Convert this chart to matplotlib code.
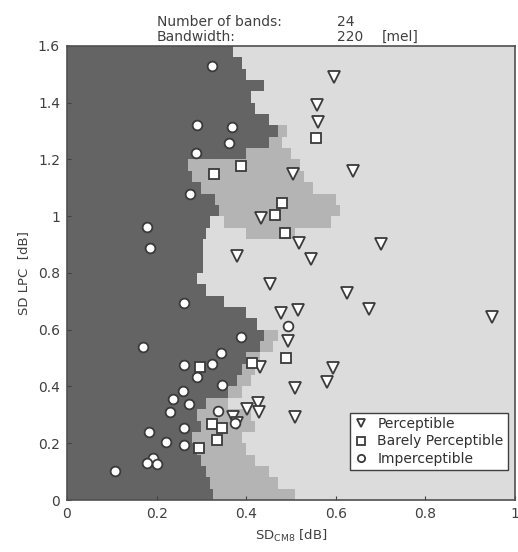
import numpy as np
import matplotlib
matplotlib.use('Agg')
import matplotlib.pyplot as plt
from matplotlib.colors import ListedColormap

# measured points
perc_x = [0.597, 0.559, 0.561, 0.504, 0.639, 0.433, 0.519, 0.700, 0.379, 0.545,
          0.453, 0.624, 0.674, 0.948, 0.478, 0.516, 0.493, 0.431, 0.593, 0.580,
          0.510, 0.427, 0.402, 0.429, 0.510, 0.371, 0.380]
perc_y = [1.492, 1.392, 1.333, 1.149, 1.160, 0.993, 0.907, 0.902, 0.860, 0.848,
          0.761, 0.728, 0.673, 0.646, 0.658, 0.670, 0.561, 0.470, 0.466, 0.415,
          0.394, 0.343, 0.320, 0.311, 0.294, 0.291, 0.270]

barely_x = [0.388, 0.329, 0.555, 0.481, 0.464, 0.487, 0.297, 0.414, 0.489,
            0.323, 0.347, 0.334, 0.295]
barely_y = [1.178, 1.149, 1.275, 1.047, 1.006, 0.940, 0.470, 0.484, 0.502,
            0.268, 0.253, 0.211, 0.184]

imp_x = [0.324, 0.290, 0.368, 0.361, 0.288, 0.275, 0.179, 0.185, 0.262, 0.388,
         0.170, 0.343, 0.262, 0.323, 0.291, 0.346, 0.260, 0.237, 0.272, 0.231,
         0.337, 0.262, 0.184, 0.222, 0.262, 0.192, 0.179, 0.200, 0.108, 0.494,
         0.375]
imp_y = [1.528, 1.322, 1.316, 1.258, 1.222, 1.078, 0.961, 0.887, 0.693, 0.576,
         0.538, 0.517, 0.476, 0.479, 0.432, 0.405, 0.385, 0.355, 0.338, 0.311,
         0.315, 0.253, 0.239, 0.203, 0.194, 0.149, 0.129, 0.127, 0.102, 0.614,
         0.272]

# decision regions, one row per 0.04 in SD LPC
row_step = 0.04
dark_edge = [0.325, 0.32, 0.31, 0.30, 0.29, 0.28, 0.30, 0.29, 0.31, 0.36,
             0.38, 0.39, 0.40, 0.43, 0.44, 0.425, 0.40, 0.35, 0.31, 0.29,
             0.303, 0.303, 0.303, 0.31, 0.32, 0.34, 0.33, 0.30, 0.28, 0.27,
             0.40, 0.45, 0.47, 0.45, 0.42, 0.41, 0.44, 0.40, 0.39, 0.37]
mid_lo = [0.325, 0.32, 0.31, 0.30, 0.29, 0.28, 0.30, 0.29, 0.31, 0.36,
          0.38, 0.39, 0.40, 0.43, 0.44, 0, 0, 0, 0, 0,
          0, 0, 0, 0.40, 0.35, 0.34, 0.33, 0.30, 0.28, 0.27,
          0.40, 0.45, 0.47, 0, 0, 0, 0, 0, 0, 0]
mid_hi = [0.51, 0.47, 0.45, 0.42, 0.40, 0.39, 0.42, 0.41, 0.36, 0.39,
          0.41, 0.42, 0.43, 0.46, 0.47, 0, 0, 0, 0, 0,
          0, 0, 0, 0.51, 0.59, 0.61, 0.60, 0.55, 0.53, 0.52,
          0.50, 0.48, 0.49, 0, 0, 0, 0, 0, 0, 0]

xg = np.linspace(0, 1, 401)
xc = 0.5 * (xg[1:] + xg[:-1])
yg = np.arange(len(dark_edge) + 1) * row_step
grid = np.full((len(dark_edge), len(xc)), 2)
for i in range(len(dark_edge)):
    grid[i, (xc >= mid_lo[i]) & (xc < mid_hi[i])] = 1
    grid[i, xc < dark_edge[i]] = 0

fig = plt.figure(figsize=(5.18, 5.52), dpi=100)
ax = fig.add_axes([0.1293, 0.0942, 0.8649, 0.8225])
cmap = ListedColormap(['#646464', '#b4b4b4', '#dcdcdc'])
ax.pcolormesh(xg, yg, grid, cmap=cmap, vmin=0, vmax=2, shading='flat')

ec = '#3a3a3a'
ax.plot(perc_x, perc_y, 'v', ms=8.5, mfc='white', mec=ec, mew=1.3, ls='none', label='Perceptible')
ax.plot(barely_x, barely_y, 's', ms=7.5, mfc='white', mec=ec, mew=1.3, ls='none', label='Barely Perceptible')
ax.plot(imp_x, imp_y, 'o', ms=7, mfc='white', mec=ec, mew=1.3, ls='none', label='Imperceptible')

ax.set_xlim(0, 1)
ax.set_ylim(0, 1.6)
ax.set_xticks(np.arange(0, 1.01, 0.2))
ax.set_xticklabels(['0', '0.2', '0.4', '0.6', '0.8', '1'])
ax.set_yticks(np.arange(0, 1.61, 0.2))
ax.set_yticklabels(['0', '0.2', '0.4', '0.6', '0.8', '1', '1.2', '1.4', '1.6'])
ax.tick_params(direction='in', length=3, labelsize=10, colors='#404040', pad=5)
for s in ax.spines.values():
    s.set_color('#505050')
    s.set_linewidth(1.2)

ax.set_xlabel(r'SD$_{\mathrm{CM8}}$ [dB]', fontsize=9.5, color='#404040', labelpad=5)
ax.set_ylabel('SD LPC  [dB]', fontsize=9.5, color='#404040', labelpad=6)

fs = 10
fig.text(157 / 518, 1 - 22 / 552, 'Number of bands:', fontsize=fs, color='#404040', va='center')
fig.text(337 / 518, 1 - 22 / 552, '24', fontsize=fs, color='#404040', va='center')
fig.text(157 / 518, 1 - 37 / 552, 'Bandwidth:', fontsize=fs, color='#404040', va='center')
fig.text(337 / 518, 1 - 37 / 552, '220', fontsize=fs, color='#404040', va='center')
fig.text(382 / 518, 1 - 37 / 552, '[mel]', fontsize=fs, color='#404040', va='center')

leg = ax.legend(loc='lower right', bbox_to_anchor=(0.984, 0.066), fontsize=10,
                markerscale=0.75, fancybox=False, framealpha=1, edgecolor='#404040',
                borderpad=0.3, labelspacing=0.25, handlelength=1.0, handletextpad=0.7,
                borderaxespad=0)
leg.get_frame().set_linewidth(1.0)
for t in leg.get_texts():
    t.set_color('#303030')

fig.savefig('out.png', dpi=100)
